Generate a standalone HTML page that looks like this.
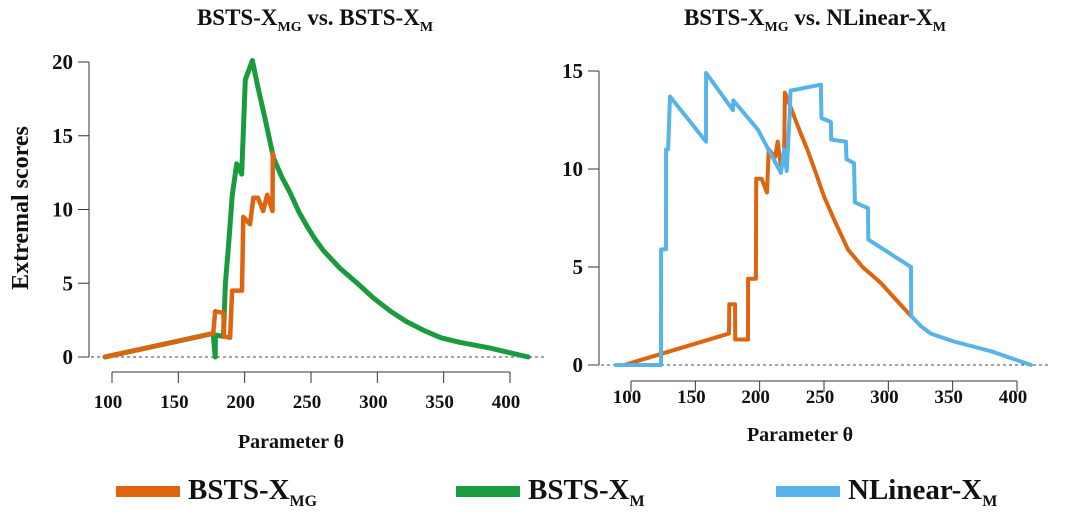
<!DOCTYPE html>
<html><head><meta charset="utf-8"><style>
html,body{margin:0;padding:0;background:#fff;width:1080px;height:515px;overflow:hidden}
svg{display:block}
text{font-family:"Liberation Serif",serif;font-weight:bold;fill:#111}
</style></head><body>
<svg id="chart" width="1080" height="515" viewBox="0 0 1080 515">
<g id="left"></g>
<g id="right"></g>
<text x="315" y="25" font-size="23" text-anchor="middle">BSTS-X<tspan font-size="14" dy="6">MG</tspan><tspan dy="-6"> vs.  BSTS-X</tspan><tspan font-size="14" dy="6">M</tspan></text>
<text x="815" y="25" font-size="23" text-anchor="middle">BSTS-X<tspan font-size="14" dy="6">MG</tspan><tspan dy="-6"> vs. NLinear-X</tspan><tspan font-size="14" dy="6">M</tspan></text>
<text transform="translate(28,208) rotate(-90)" font-size="24" text-anchor="middle">Extremal scores</text>
<text x="291" y="448" font-size="20" text-anchor="middle">Parameter θ</text>
<text x="800" y="441" font-size="20" text-anchor="middle">Parameter θ</text>
<g>
<rect x="116" y="486" width="64" height="11" fill="#de6410"/>
<text x="188" y="499" font-size="29">BSTS-X<tspan font-size="16" dy="7">MG</tspan></text>
<rect x="456" y="486" width="64" height="11" fill="#1a9c3e"/>
<text x="528" y="499" font-size="29">BSTS-X<tspan font-size="16" dy="7">M</tspan></text>
<rect x="776" y="486" width="64" height="11" fill="#56b4e9"/>
<text x="848" y="499" font-size="29">NLinear-X<tspan font-size="16" dy="7">M</tspan></text>
</g>
</svg>
<script>
const xTicks=[100,150,200,250,300,350,400];
const leftYTicks=[0,5,10,15,20];
const rightYTicks=[0,5,10,15];
const leftGreenX=[94.7,176.3,177.8,178,184,185.5,188,190.7,194,197.8,200.5,205.8,210,215,221.7,228,234.5,241,247.4,253,259.5,272,285,297,310,322,335,348,362,385,413.7];
const leftGreenY=[0,1.6,0,1.5,1.4,5,7.7,11,13.1,12.4,18.8,20.1,18.3,16.3,13.5,12.2,11.1,9.8,8.8,8.0,7.2,6.0,5.0,4.0,3.1,2.4,1.8,1.3,1.0,0.6,0];
const leftOrangeX=[94.7,176.3,177.8,184,184.5,189,190.5,198,199,204,206.6,210,214,217,221,221.2,221.7];
const leftOrangeY=[0,1.6,3.1,3.0,1.4,1.3,4.5,4.5,9.5,9.0,10.8,10.8,9.9,11,9.9,13.8,13.5];
const rightBlueX=[88.3,123.3,123.4,127.2,127.3,128.8,130.3,158.3,158.4,179.3,179.5,198.7,216.5,219,221,223.5,224,247.6,248,255.4,255.6,267,267.5,273.3,274,284.2,284.4,317.6,317.8,325,333,342,351,380,410.8];
const rightBlueY=[0,0,5.9,5.9,11,11,13.7,11.4,14.9,13.0,13.5,12.0,9.8,11,9.9,13,14,14.3,12.6,12.4,11.5,11.4,10.5,10.3,8.3,8.0,6.4,5.0,2.5,2.0,1.6,1.4,1.2,0.7,0];
const rightOrangeX=[94.6,176.2,176.4,180.8,181,190.9,191,197.1,197.3,201.5,205.7,207,212,214,216.5,219,219.6,222,226.7,232,237,242,250,258,268.6,280,294,305,317.6];
const rightOrangeY=[0,1.6,3.1,3.1,1.3,1.3,4.4,4.4,9.5,9.5,8.8,11,10.6,11.4,10.1,10.5,13.9,13.5,12.7,11.8,11.0,10.1,8.6,7.4,5.9,5.0,4.2,3.4,2.5];
const NS='http://www.w3.org/2000/svg';
function el(tag,attrs,parent){const e=document.createElementNS(NS,tag);for(const k in attrs)e.setAttribute(k,attrs[k]);parent.appendChild(e);return e;}
function panel(g,P,yTicks,series,prefix){
  const sx=v=>P.x0+(v-100)*(P.x1-P.x0)/300;
  const sy=v=>P.y0-v*(P.y0-P.yTop)/P.yMax;
  const ya=el('line',{x1:P.ax,x2:P.ax,y1:sy(P.yMax),y2:sy(0),stroke:'#333','stroke-width':1},g);
  
  
  yTicks.forEach(t=>{
    const tl=el('line',{x1:P.ax-11,x2:P.ax,y1:sy(t),y2:sy(t),stroke:'#333','stroke-width':1},g);
    
    
    const tx=el('text',{x:P.ax-16,y:sy(t)+7,'font-size':21,'text-anchor':'end'},g);
    tx.textContent=t;
    
    
  });
  const zl=el('line',{x1:P.ax-10,x2:P.zEnd,y1:sy(0),y2:sy(0),stroke:'#444','stroke-width':1,'stroke-dasharray':'3,3'},g);
  
  
  const xa=el('line',{x1:sx(100),x2:sx(400),y1:P.xAxY,y2:P.xAxY,stroke:'#333','stroke-width':1},g);
  
  
  xTicks.forEach(t=>{
    const tl=el('line',{x1:sx(t),x2:sx(t),y1:P.xAxY,y2:P.xAxY+11,stroke:'#333','stroke-width':1},g);
    
    
    const tx=el('text',{x:sx(t)-4,y:P.xAxY+P.lblOff,'font-size':19,'text-anchor':'middle'},g);
    tx.textContent=t;
    
    
  });
  series.forEach(s=>{
    const d=s.xs.map((x,i)=>(i?'L':'M')+sx(x).toFixed(1)+','+sy(s.ys[i]).toFixed(1)).join(' ');
    const p=el('path',{d:d,fill:'none',stroke:s.color,'stroke-width':s.w,'stroke-linejoin':'round','stroke-linecap':'round'},g);
    
    
  });
}
panel(document.getElementById('left'),{x0:112,x1:510,y0:357,yTop:62,yMax:20,ax:89,zEnd:545,xAxY:372,lblOff:36},leftYTicks,
 [{xs:leftGreenX,ys:leftGreenY,color:'#1a9c3e',w:5,name:'line-bsts-xm'},{xs:leftOrangeX,ys:leftOrangeY,color:'#de6410',w:4.5,name:'line-bsts-xmg'}],'left');
panel(document.getElementById('right'),{x0:631,x1:1017,y0:365,yTop:71,yMax:15,ax:599,zEnd:1048,xAxY:381,lblOff:22},rightYTicks,
 [{xs:rightOrangeX,ys:rightOrangeY,color:'#de6410',w:4,name:'line-bsts-xmg'},{xs:rightBlueX,ys:rightBlueY,color:'#56b4e9',w:4,name:'line-nlinear-xm'}],'right');
</script>
</body></html>
